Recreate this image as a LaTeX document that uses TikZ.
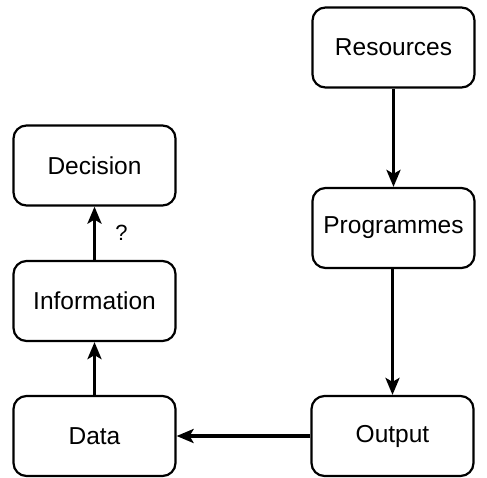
\documentclass[tikz,border=0pt]{standalone}
\usepackage{fontspec}
\setmainfont{Liberation Sans}
\usetikzlibrary{arrows.meta}
\begin{document}
\begin{tikzpicture}[x=1pt,y=-1pt,
  box/.style={draw, line width=2.2pt, rounded corners=13pt, minimum width=162pt, minimum height=80pt, inner sep=0pt, font=\fontsize{24.5}{28}\selectfont},
  conn/.style={line width=3.2pt, -{Stealth[length=17pt,width=14pt,inset=4pt]}}]
\useasboundingbox (0,0) rectangle (487,477);
\node[box] (res) at (393.5,47.5) {Resources};
\node[box] (prog) at (393.5,228) {Programmes};
\node[box] (out) at (392.5,436) {Output};
\node[box] (dec) at (94.5,165.5) {Decision};
\node[box] (inf) at (94.5,301) {Information};
\node[box] (dat) at (94.5,436) {Data};
\draw[conn] (res) -- (prog);
\draw[conn] (prog.south -| out.north) -- (out.north);
\draw[conn] (out) -- (dat);
\draw[conn] (dat) -- (inf);
\draw[conn] (inf) -- node[right=16pt, font=\fontsize{22}{26}\selectfont] (q) {?} (dec);
\end{tikzpicture}
\end{document}
